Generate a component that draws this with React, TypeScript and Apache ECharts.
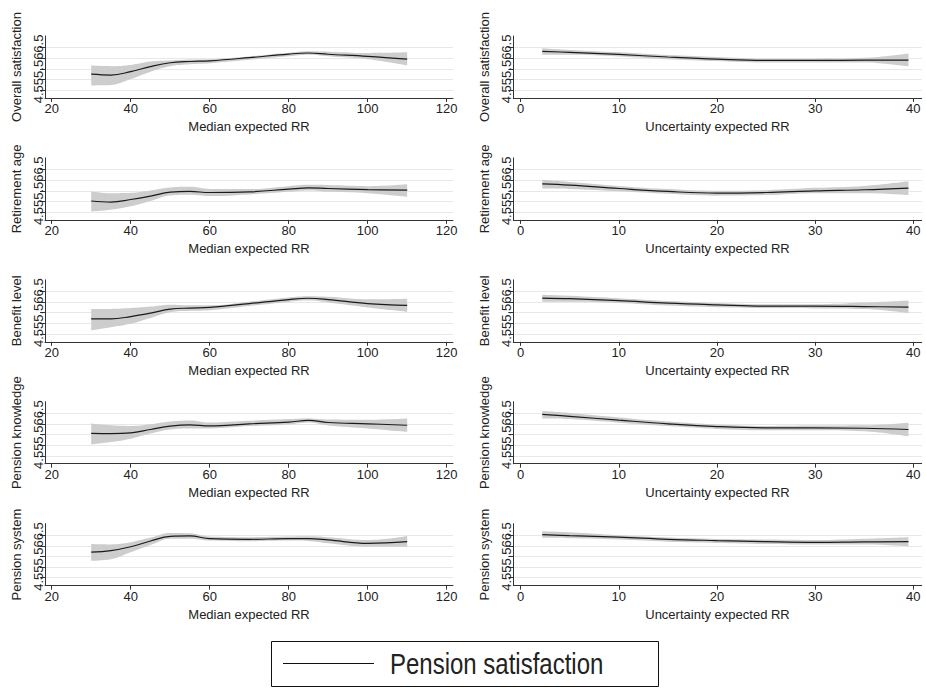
import React, { useEffect, useRef } from "react";
import * as echarts from "echarts";

// ---------- data ----------
const medianX = [30, 35, 40, 45, 50, 55, 60, 70, 80, 85, 90, 100, 110];
const uncertX = [2.2, 5, 10, 15, 20, 25, 30, 35, 39.5];

const medianXTicks = [20, 40, 60, 80, 100, 120];
const uncertXTicks = [0, 10, 20, 30, 40];
const yTicks = [4.5, 5, 5.5, 6, 6.5];

const outcomes = ["Overall satisfaction", "Retirement age", "Benefit level", "Pension knowledge", "Pension system"];
const xNames = ["Median expected RR", "Uncertainty expected RR"];
const legendLabel = "Pension satisfaction";

// Median expected RR panels
const overallMedMean = [5.25, 5.21, 5.37, 5.61, 5.79, 5.85, 5.88, 6.03, 6.2, 6.25, 6.19, 6.09, 5.96];
const overallMedUp = [5.66, 5.63, 5.69, 5.85, 5.9, 5.94, 5.96, 6.09, 6.26, 6.33, 6.31, 6.25, 6.28];
const overallMedLo = [4.72, 4.74, 5.02, 5.37, 5.63, 5.72, 5.77, 5.93, 6.1, 6.17, 6.1, 5.96, 5.67];

const retireMedMean = [5.02, 4.97, 5.09, 5.25, 5.44, 5.47, 5.42, 5.45, 5.58, 5.64, 5.61, 5.56, 5.53];
const retireMedUp = [5.47, 5.39, 5.41, 5.52, 5.66, 5.69, 5.59, 5.58, 5.72, 5.78, 5.77, 5.72, 5.81];
const retireMedLo = [4.53, 4.61, 4.77, 5.02, 5.28, 5.31, 5.25, 5.33, 5.45, 5.52, 5.45, 5.39, 5.22];

const benefitMedMean = [5.21, 5.21, 5.32, 5.48, 5.67, 5.72, 5.75, 5.93, 6.12, 6.18, 6.12, 5.93, 5.85];
const benefitMedUp = [5.68, 5.68, 5.72, 5.79, 5.88, 5.85, 5.85, 6.02, 6.22, 6.28, 6.25, 6.13, 6.16];
const benefitMedLo = [4.67, 4.82, 4.98, 5.25, 5.52, 5.59, 5.62, 5.82, 6.01, 6.07, 5.98, 5.75, 5.55];

const knowMedMean = [5.56, 5.55, 5.58, 5.74, 5.9, 5.96, 5.91, 6.01, 6.09, 6.17, 6.07, 6.01, 5.94];
const knowMedUp = [6.02, 5.94, 5.91, 5.99, 6.12, 6.17, 6.07, 6.15, 6.23, 6.26, 6.21, 6.2, 6.26];
const knowMedLo = [5.04, 5.15, 5.31, 5.55, 5.74, 5.79, 5.79, 5.9, 5.98, 6.07, 5.93, 5.79, 5.63];

const systemMedMean = [5.71, 5.78, 5.96, 6.23, 6.45, 6.47, 6.34, 6.31, 6.34, 6.34, 6.28, 6.12, 6.2];
const systemMedUp = [6.09, 6.07, 6.17, 6.39, 6.61, 6.59, 6.44, 6.41, 6.44, 6.45, 6.41, 6.28, 6.47];
const systemMedLo = [5.3, 5.37, 5.7, 6.04, 6.34, 6.34, 6.25, 6.22, 6.25, 6.23, 6.12, 5.96, 5.96];

// Uncertainty expected RR panels
const overallUncMean = [6.33, 6.28, 6.18, 6.06, 5.96, 5.9, 5.9, 5.91, 5.91];
const overallUncUp = [6.47, 6.39, 6.28, 6.15, 6.06, 5.98, 5.98, 6.02, 6.23];
const overallUncLo = [6.17, 6.17, 6.09, 5.96, 5.87, 5.8, 5.8, 5.8, 5.61];

const retireUncMean = [5.83, 5.77, 5.61, 5.47, 5.39, 5.42, 5.5, 5.55, 5.63];
const retireUncUp = [6.02, 5.92, 5.73, 5.58, 5.5, 5.53, 5.64, 5.73, 5.95];
const retireUncLo = [5.61, 5.59, 5.48, 5.36, 5.27, 5.3, 5.39, 5.39, 5.3];

const benefitUncMean = [6.19, 6.16, 6.07, 5.95, 5.87, 5.81, 5.81, 5.79, 5.76];
const benefitUncUp = [6.35, 6.3, 6.18, 6.05, 5.96, 5.9, 5.9, 5.98, 6.08];
const benefitUncLo = [6.02, 6.02, 5.96, 5.84, 5.76, 5.72, 5.7, 5.67, 5.48];

const knowUncMean = [6.45, 6.36, 6.18, 6.01, 5.88, 5.82, 5.82, 5.8, 5.74];
const knowUncUp = [6.61, 6.52, 6.31, 6.12, 5.98, 5.91, 5.93, 5.94, 6.06];
const knowUncLo = [6.26, 6.23, 6.06, 5.9, 5.77, 5.71, 5.71, 5.66, 5.42];

const systemUncMean = [6.53, 6.48, 6.41, 6.31, 6.25, 6.2, 6.17, 6.19, 6.2];
const systemUncUp = [6.69, 6.64, 6.5, 6.39, 6.33, 6.3, 6.28, 6.34, 6.41];
const systemUncLo = [6.38, 6.36, 6.3, 6.2, 6.14, 6.09, 6.06, 6.06, 5.97];

// ---------- layout ----------
const FONT = "'Liberation Sans', Arial, Helvetica, sans-serif";
const AX_FS = 13;
const colLeft = [45, 513.3];
const colWidth = [408, 408.4];
const rowTop0 = 36;
const rowStep = 121.9;
const plotH = 62;
const yMin = 4.13;
const yMax = 7.05;
const xRanges = [
  [18.3, 121.6],
  [-0.75, 40.85],
];
const SMOOTH = 0.4;

type Panel = { row: number; col: number; mean: number[]; up: number[]; lo: number[] };

const panels: Panel[] = [
  { row: 0, col: 0, mean: overallMedMean, up: overallMedUp, lo: overallMedLo },
  { row: 0, col: 1, mean: overallUncMean, up: overallUncUp, lo: overallUncLo },
  { row: 1, col: 0, mean: retireMedMean, up: retireMedUp, lo: retireMedLo },
  { row: 1, col: 1, mean: retireUncMean, up: retireUncUp, lo: retireUncLo },
  { row: 2, col: 0, mean: benefitMedMean, up: benefitMedUp, lo: benefitMedLo },
  { row: 2, col: 1, mean: benefitUncMean, up: benefitUncUp, lo: benefitUncLo },
  { row: 3, col: 0, mean: knowMedMean, up: knowMedUp, lo: knowMedLo },
  { row: 3, col: 1, mean: knowUncMean, up: knowUncUp, lo: knowUncLo },
  { row: 4, col: 0, mean: systemMedMean, up: systemMedUp, lo: systemMedLo },
  { row: 4, col: 1, mean: systemUncMean, up: systemUncUp, lo: systemUncLo },
];

// Same bezier construction as ECharts' smoothed line, on pixel points.
function smoothSegment(pts: number[][], smooth: number, start: "M" | "L"): string {
  const n = pts.length;
  let d = `${start}${pts[0][0]},${pts[0][1]}`;
  let cpx0 = pts[0][0];
  let cpy0 = pts[0][1];
  for (let i = 1; i < n; i++) {
    const x = pts[i][0];
    const y = pts[i][1];
    let cpx1 = x;
    let cpy1 = y;
    let nextCpx0 = x;
    let nextCpy0 = y;
    if (i < n - 1) {
      const prevX = pts[i - 1][0];
      const prevY = pts[i - 1][1];
      const nextX = pts[i + 1][0];
      const nextY = pts[i + 1][1];
      let vx = nextX - prevX;
      let vy = nextY - prevY;
      const dx0 = x - prevX;
      const dy0 = y - prevY;
      const dx1 = nextX - x;
      const dy1 = nextY - y;
      const lenPrev = Math.sqrt(dx0 * dx0 + dy0 * dy0);
      const lenNext = Math.sqrt(dx1 * dx1 + dy1 * dy1);
      const ratio = lenNext / (lenNext + lenPrev || 1);
      cpx1 = x - vx * smooth * (1 - ratio);
      cpy1 = y - vy * smooth * (1 - ratio);
      nextCpx0 = x + vx * smooth * ratio;
      nextCpy0 = y + vy * smooth * ratio;
      nextCpx0 = Math.min(nextCpx0, Math.max(nextX, x));
      nextCpy0 = Math.min(nextCpy0, Math.max(nextY, y));
      nextCpx0 = Math.max(nextCpx0, Math.min(nextX, x));
      nextCpy0 = Math.max(nextCpy0, Math.min(nextY, y));
      vx = nextCpx0 - x;
      vy = nextCpy0 - y;
      if (lenNext > 0) {
        cpx1 = x - (vx * lenPrev) / lenNext;
        cpy1 = y - (vy * lenPrev) / lenNext;
      }
      cpx1 = Math.min(cpx1, Math.max(prevX, x));
      cpy1 = Math.min(cpy1, Math.max(prevY, y));
      cpx1 = Math.max(cpx1, Math.min(prevX, x));
      cpy1 = Math.max(cpy1, Math.min(prevY, y));
      vx = x - cpx1;
      vy = y - cpy1;
      if (lenPrev > 0) {
        nextCpx0 = x + (vx * lenNext) / lenPrev;
        nextCpy0 = y + (vy * lenNext) / lenPrev;
      }
    }
    d += `C${cpx0},${cpy0},${cpx1},${cpy1},${x},${y}`;
    cpx0 = nextCpx0;
    cpy0 = nextCpy0;
  }
  return d;
}

// Rotated y labels sit end to end (as in the reference); padding nudges each along the axis.
const yLabelPad: Record<string, number[]> = {
  "4.5": [0, 8.1, 0, 0],
  "5": [0, 4.05, 0, 0],
  "5.5": [0, 0, 0, 0],
  "6": [0, 0, 0, 4.05],
  "6.5": [0, 0, 0, 8.1],
};
const yRich: Record<string, any> = {};
yTicks.forEach((t, k) => {
  yRich["t" + k] = { fontFamily: FONT, fontSize: AX_FS, color: "#222", padding: yLabelPad[String(t)] };
});

function buildOption() {
  const grid: any[] = [];
  const xAxis: any[] = [];
  const yAxis: any[] = [];
  const series: any[] = [];

  panels.forEach((p, i) => {
    const xs = p.col === 0 ? medianX : uncertX;
    grid.push({
      left: colLeft[p.col],
      width: colWidth[p.col],
      top: rowTop0 + rowStep * p.row,
      height: plotH,
      containLabel: false,
    });
    const ticks = p.col === 0 ? medianXTicks : uncertXTicks;
    xAxis.push({
      type: "value",
      gridIndex: i,
      min: xRanges[p.col][0],
      max: xRanges[p.col][1],
      name: xNames[p.col],
      nameLocation: "middle",
      nameGap: 22,
      nameMoveOverlap: false,
      nameTextStyle: { fontFamily: FONT, fontSize: AX_FS, color: "#222" },
      axisLine: { show: true, onZero: false, lineStyle: { color: "#333", width: 1 } },
      axisTick: { show: true, customValues: ticks, length: 4, lineStyle: { color: "#333" } },
      axisLabel: { customValues: ticks, fontFamily: FONT, fontSize: AX_FS, color: "#222", margin: 4, hideOverlap: false },
      splitLine: { show: false },
    });
    yAxis.push({
      type: "value",
      gridIndex: i,
      min: yMin,
      max: yMax,
      name: outcomes[p.row],
      nameLocation: "middle",
      nameGap: 22,
      nameMoveOverlap: false,
      nameTextStyle: { fontFamily: FONT, fontSize: AX_FS, color: "#222" },
      axisLine: { show: true, onZero: false, lineStyle: { color: "#333", width: 1 } },
      axisTick: { show: true, customValues: yTicks, length: 5, lineStyle: { color: "#333" } },
      axisLabel: {
        customValues: yTicks,
        rotate: 90,
        interval: 0,
        hideOverlap: false,
        fontFamily: FONT,
        fontSize: AX_FS,
        color: "#222",
        margin: 0,
        formatter: (v: number) => {
          const k = yTicks.findIndex((t) => Math.abs(t - v) < 1e-6);
          return k >= 0 ? `{t${k}|${String(v)}}` : String(v);
        },
        rich: yRich,
      },
      splitLine: { show: true, customValues: yTicks, lineStyle: { color: "#e8e8e8", width: 1 } },
    });
    series.push({
      type: "custom",
      name: "ci-" + i,
      xAxisIndex: i,
      yAxisIndex: i,
      silent: true,
      clip: true,
      z: 1,
      data: xs.map((x, k) => [x, p.lo[k], p.up[k]]),
      renderItem: (params: any, api: any) => {
        if (params.dataIndex !== 0) return null;
        const upPts = xs.map((x, k) => api.coord([x, p.up[k]]));
        const loPts = xs.map((x, k) => api.coord([x, p.lo[k]])).reverse();
        const d = smoothSegment(upPts, SMOOTH, "M") + smoothSegment(loPts, SMOOTH, "L") + "Z";
        return {
          type: "path",
          shape: { pathData: d },
          style: { fill: "#cdcdcd", stroke: "none" },
        };
      },
    });
    series.push({
      type: "line",
      name: legendLabel,
      xAxisIndex: i,
      yAxisIndex: i,
      smooth: SMOOTH,
      symbol: "none",
      z: 3,
      lineStyle: { color: "#1a1a1a", width: 1.2 },
      data: xs.map((x, k) => [x, p.mean[k]]),
    });
  });

  return {
    animation: false,
    backgroundColor: "#ffffff",
    textStyle: { fontFamily: FONT },
    grid,
    xAxis,
    yAxis,
    series,
    graphic: [
      {
        type: "rect",
        shape: { x: 271.5, y: 641.5, width: 387, height: 45 },
        style: { fill: "#fff", stroke: "#111", lineWidth: 1 },
      },
      {
        type: "line",
        shape: { x1: 283, y1: 663.5, x2: 374, y2: 663.5 },
        style: { stroke: "#111", lineWidth: 1.2 },
      },
      {
        type: "text",
        x: 390,
        y: 664,
        scaleY: 1.25,
        style: {
          text: legendLabel,
          fontFamily: FONT,
          fontSize: 24,
          fill: "#222",
          verticalAlign: "middle",
          align: "left",
        },
      },
    ],
  };
}

export default function App() {
  const ref = useRef<HTMLDivElement>(null);
  useEffect(() => {
    if (!ref.current) return;
    const chart = echarts.init(ref.current, undefined, { renderer: "svg" });
    chart.setOption(buildOption() as any);
    return () => chart.dispose();
  }, []);
  return (
    <div
      ref={ref}
      style={{ position: "absolute", left: 0, top: 0, width: 926, height: 688, background: "#fff" }}
    />
  );
}
